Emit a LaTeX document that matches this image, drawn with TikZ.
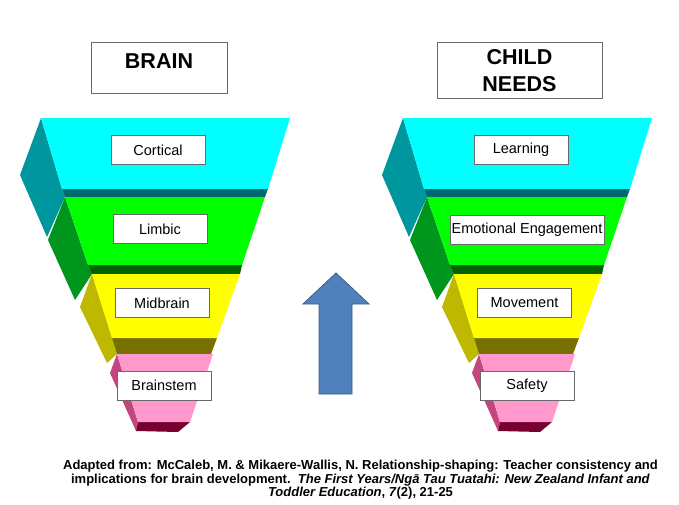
\documentclass[tikz,border=0pt]{standalone}
\usepackage{fontspec}
\setmainfont{Liberation Sans}
\usetikzlibrary{positioning}
\definecolor{CyanFace}{RGB}{0,255,255}
\definecolor{CyanSide}{RGB}{0,150,158}
\definecolor{CyanBase}{RGB}{0,105,112}
\definecolor{GreenFace}{RGB}{0,255,0}
\definecolor{GreenSide}{RGB}{0,150,30}
\definecolor{GreenBase}{RGB}{0,100,0}
\definecolor{YellowFace}{RGB}{255,255,0}
\definecolor{YellowSide}{RGB}{190,185,0}
\definecolor{YellowBase}{RGB}{118,112,0}
\definecolor{PinkFace}{RGB}{255,153,204}
\definecolor{PinkSide}{RGB}{196,70,128}
\definecolor{PinkBase}{RGB}{118,0,48}
\definecolor{ArrowBlue}{RGB}{79,129,189}
\definecolor{ArrowEdge}{RGB}{56,93,138}
\definecolor{BoxEdge}{RGB}{105,105,105}
\tikzset{
  lblbox/.style   ={rectangle, draw=BoxEdge, line width=.6pt, fill=white, text=black,
                    font=\fontsize{14.5}{16}\selectfont, minimum width=94pt, minimum height=29pt,
                    inner xsep=1.5pt, inner ysep=2pt},
  titlebox/.style ={rectangle, draw=BoxEdge, line width=.7pt, fill=white, text=black,
                    font=\fontsize{21.5}{27}\selectfont\bfseries, align=center, anchor=north,
                    inner ysep=4pt},
  bigarrow/.style ={fill=ArrowBlue, draw=ArrowEdge, line width=.8pt},
  source/.style   ={align=center, text=black, font=\fontsize{13}{13.5}\selectfont\bfseries},
}
\begin{document}
\begin{tikzpicture}[x=1pt,y=-1pt]
  \useasboundingbox[fill=white] (0,0) rectangle (679,504);
  % the two funnels
  \foreach \dx in {0,362}{
    \begin{scope}[xshift=\dx]
      \fill[CyanSide]   (41,118) -- (20,175) -- (47,237) -- (65,197) -- (62,189) -- cycle;
      \fill[CyanBase]   (62,189) -- (268,189) -- (265,197) -- (65,197) -- cycle;
      \fill[CyanFace]   (41,118) -- (290,118) -- (268,189) -- (62,189) -- cycle;
      \fill[GreenSide]  (65,197) -- (48,240) -- (75,300) -- (92,274) -- (88,265) -- cycle;
      \fill[GreenBase]  (88,265) -- (242,265) -- (240,274) -- (92,274) -- cycle;
      \fill[GreenFace]  (65,197) -- (265,197) -- (242,265) -- (88,265) -- cycle;
      \fill[YellowSide] (92,274) -- (80,307) -- (107,363) -- (117,354) -- (112,338) -- cycle;
      \fill[YellowBase] (112,338) -- (217,338) -- (211,354) -- (117,354) -- cycle;
      \fill[YellowFace] (92,274) -- (240,274) -- (217,338) -- (112,338) -- cycle;
      \fill[PinkSide]   (117,354) -- (110,373) -- (136,431) -- (138,422) -- cycle;
      \fill[PinkBase]   (138,422) -- (190,422) -- (178,432) -- (136,431) -- cycle;
      \fill[PinkFace]   (117,354) -- (213,354) -- (190,422) -- (138,422) -- cycle;
    \end{scope}
  }
  % headings
  \node[titlebox,minimum width=136pt,text height=21.7pt,text depth=21.3pt] (brain) at (159,42) {BRAIN};
  \node[titlebox,minimum width=165pt,minimum height=56pt] (needs) at (519.5,42) {CHILD\\NEEDS};
  % layer labels
  \node[lblbox] (cortical)  at (158,150) {Cortical};
  \node[lblbox] (limbic)    at (160,229) {Limbic};
  \node[lblbox] (midbrain)  at (162,303) {Midbrain};
  \node[lblbox] (brainstem) at (164,385.5) {Brainstem};
  \node[lblbox] (learning)  at (521,150) {Learning};
  \node[lblbox] (emotion)   at (527,229.5) {Emotional Engagement};
  \node[lblbox] (movement)  at (524.5,302.5) {Movement};
  \node[lblbox] (safety)    at (527,385.5) {Safety};
  % upward arrow
  \draw[bigarrow] (336,273) -- (369,304) -- (352,304) -- (352,394) -- (319,394) -- (319,304) -- (303,304) -- cycle;
  % reference
  \node[source] (ref) at (360.5,480)
    {Adapted from: McCaleb, M. \& Mikaere-Wallis, N. Relationship-shaping: Teacher consistency and\\
     implications for brain development.\ \ \textit{The First Years/Ngā Tau Tuatahi: New Zealand Infant and}\\
     \textit{Toddler Education}, \textit{7}(2), 21-25};
\end{tikzpicture}
\end{document}
